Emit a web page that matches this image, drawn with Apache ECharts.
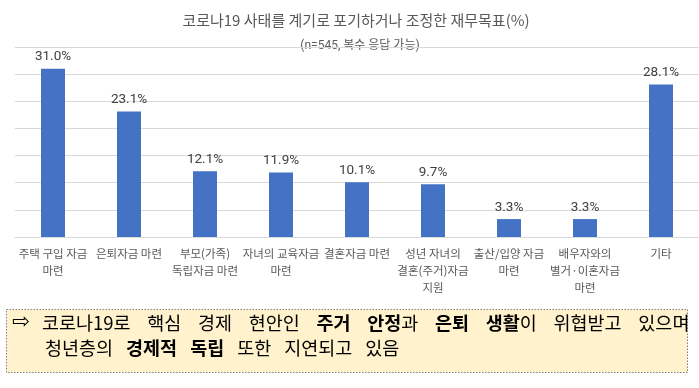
<!DOCTYPE html>
<html>
<head>
<meta charset="utf-8">
<script src="https://cdn.jsdelivr.net/npm/echarts@6/dist/echarts.min.js"></script>
<style>
html,body{margin:0;padding:0;background:#fff;}
#main{width:699px;height:388px;}
</style>
</head>
<body>
<div id="main"></div>
<script>
const titleText = '코로나19 사태를 계기로 포기하거나 조정한 재무목표(%)';
const subtitleText = '(n=545, 복수 응답 가능)';
const categories = [
  '주택 구입 자금\n마련',
  '은퇴자금 마련',
  '부모(가족)\n독립자금 마련',
  '자녀의 교육자금\n마련',
  '결혼자금 마련',
  '성년 자녀의\n결혼(주거)자금\n지원',
  '출산/입양 자금\n마련',
  '배우자와의\n별거·이혼자금\n마련',
  '기타'
];
const values = [31.0, 23.1, 12.1, 11.9, 10.1, 9.7, 3.3, 3.3, 28.1];
const yMin = 0, yMax = 35, yInterval = 5;
// note lines: [text, bold] segments; '|' marks a word gap
const noteLine1 = [['코로나19로',0],['|'],['핵심',0],['|'],['경제',0],['|'],['현안인',0],['|'],['주거',1],['|'],['안정',1],['과',0],['|'],['은퇴',1],['|'],['생활',1],['이',0],['|'],['위협받고',0],['|'],['있으며',0]];
const noteLine2 = [['청년층의',0],['|'],['경제적',1],['|'],['독립',1],['|'],['또한',0],['|'],['지연되고',0],['|'],['있음',0]];

const KR = "'Noto Sans CJK KR', sans-serif";
const LAT = "Roboto, 'Noto Sans CJK KR', sans-serif";

function richLine(segs){
  return segs.map(s => s[0] === '|' ? '{g| }' : (s[1] ? '{b|' + s[0] + '}' : '{n|' + s[0] + '}')).join('');
}
function richStyles(gap){
  return {
    n: {fontFamily: KR, fontSize: 18.5, fontWeight: 'normal', fill: '#000'},
    b: {fontFamily: KR, fontSize: 18.5, fontWeight: 'bold', fill: '#000'},
    g: {width: gap, fontSize: 18.5}
  };
}

const chart = echarts.init(document.getElementById('main'), null, {renderer: 'canvas'});
chart.setOption({
  backgroundColor: '#ffffff',
  animation: false,
  grid: {left: 15, top: 47, width: 688, height: 190, containLabel: false},
  xAxis: {
    type: 'category',
    data: categories,
    axisLine: {show: true, lineStyle: {color: '#D9D9D9', width: 1}},
    axisTick: {show: false},
    axisLabel: {interval: 0, color: '#595959', fontFamily: KR, fontSize: 11.5, lineHeight: 17, margin: 8}
  },
  yAxis: {
    type: 'value',
    min: yMin, max: yMax, interval: yInterval,
    axisLine: {show: false},
    axisTick: {show: false},
    axisLabel: {show: false},
    splitLine: {lineStyle: {color: '#D9D9D9', width: 1}}
  },
  series: [{
    type: 'bar',
    data: values,
    barWidth: 24,
    itemStyle: {color: '#4472C4'},
    label: {
      show: true, position: 'top', distance: 5,
      color: '#404040', fontFamily: LAT, fontSize: 13.5,
      formatter: p => p.value.toFixed(1) + '%'
    }
  }],
  graphic: [
    {type: 'text', x: 356, y: 20, style: {text: titleText, fontFamily: KR, fontSize: 15, fill: '#595959', textAlign: 'center', textVerticalAlign: 'middle'}},
    {type: 'text', x: 360, y: 46, style: {text: subtitleText, fontFamily: LAT, fontSize: 12, fill: '#595959', textAlign: 'center', textVerticalAlign: 'middle'}},
    {type: 'rect', shape: {x: 6.5, y: 309.5, width: 681, height: 63}, style: {fill: '#FFF2CC', stroke: '#808080', lineWidth: 1, lineDash: [1.5, 1.5]}},
    {type: 'text', x: 12, y: 323, style: {text: '⇨', fontFamily: "'DejaVu Sans', sans-serif", fontSize: 21, fill: '#000', textVerticalAlign: 'middle'}},
    {type: 'text', x: 42, y: 323, style: {text: richLine(noteLine1), rich: richStyles(16.7), textVerticalAlign: 'middle'}},
    {type: 'text', x: 45, y: 348, style: {text: richLine(noteLine2), rich: richStyles(13), textVerticalAlign: 'middle'}}
  ]
});
</script>
</body>
</html>
